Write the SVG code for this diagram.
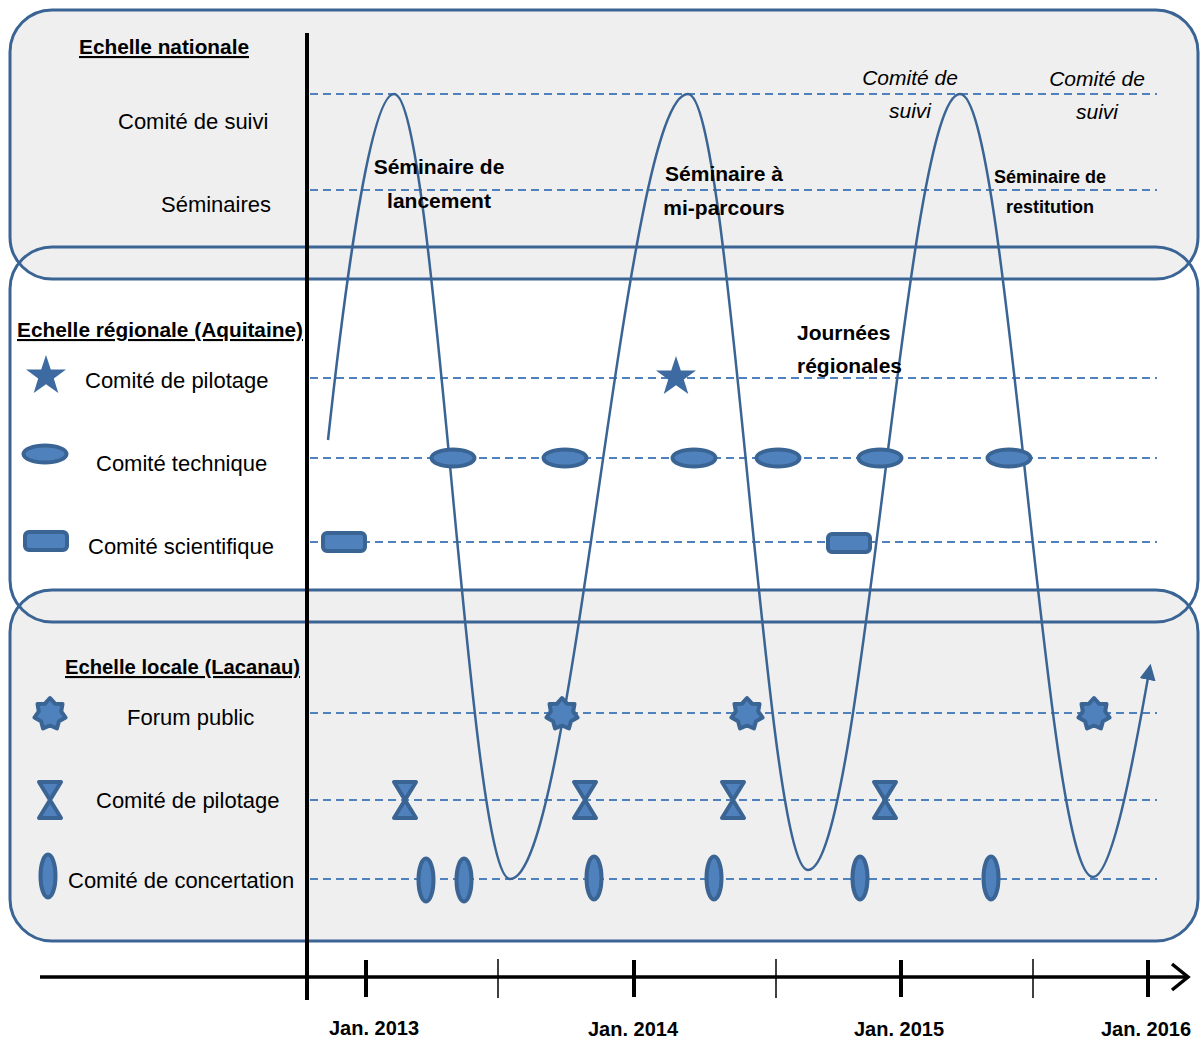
<svg xmlns="http://www.w3.org/2000/svg" width="1202" height="1043" viewBox="0 0 1202 1043">
<style>
.lbl{font-family:"Liberation Sans",Arial,sans-serif;font-size:22px;fill:#000}
.hd{font-family:"Liberation Sans",Arial,sans-serif;font-size:21px;font-weight:bold;text-decoration:underline;fill:#000}
.bd{font-family:"Liberation Sans",Arial,sans-serif;font-size:21px;font-weight:bold;fill:#000;text-anchor:middle}
.it{font-family:"Liberation Sans",Arial,sans-serif;font-size:21px;font-style:italic;fill:#000;text-anchor:middle}
.yr{font-family:"Liberation Sans",Arial,sans-serif;font-size:20px;font-weight:bold;fill:#000;text-anchor:middle}
.dash{stroke:#4f81bd;stroke-width:1.8;stroke-dasharray:8 5;fill:none}
.sym{fill:#4f81bd;stroke:#3a6494;stroke-width:4;stroke-linejoin:round}
.pan{stroke:#3a6494;stroke-width:3;fill:none}
</style>
<defs>
<marker id="ah" viewBox="0 0 10 10" refX="8" refY="5" markerWidth="6.5" markerHeight="6.5" orient="auto" markerUnits="strokeWidth">
<path d="M0,0 L10,5 L0,10 z" fill="#3a6494"/>
</marker>
<polygon id="star5" points="0,-21 4.8,-6.6 20,-6.5 7.8,2.5 12.3,17 0,8.2 -12.3,17 -7.8,2.5 -20,-6.5 -4.8,-6.6" fill="#3d6aa0"/>
<polygon id="star7" class="sym" points="0,-16 4.99,-10.36 12.51,-9.98 11.21,-2.56 15.6,3.56 8.99,7.17 6.94,14.42 0,11.5 -6.94,14.42 -8.99,7.17 -15.6,3.56 -11.21,-2.56 -12.51,-9.98 -4.99,-10.36"/>
<path id="hour" class="sym" d="M-11,-18 L11,-18 L0,0 Z M0,0 L11,18 L-11,18 Z"/>
<ellipse id="ovh" class="sym" rx="21.5" ry="8.5"/>
<ellipse id="ovv" class="sym" rx="7.5" ry="21.5"/>
<rect id="rct" class="sym" x="-21" y="-9" width="42" height="18" rx="4"/>
</defs>

<g id="panels">
<rect x="10" y="10" width="1188" height="269" rx="42" fill="#efefef"/>
<rect x="10" y="590" width="1188" height="351" rx="42" fill="#efefef"/>
<rect class="pan" x="10" y="10" width="1188" height="269" rx="42"/>
<rect class="pan" x="10" y="247" width="1188" height="375" rx="42"/>
<rect class="pan" x="10" y="590" width="1188" height="351" rx="42"/>
</g>

<g id="gridlines">
<line class="dash" x1="310" y1="94" x2="1157" y2="94"/>
<line class="dash" x1="310" y1="190" x2="1157" y2="190"/>
<line class="dash" x1="310" y1="378" x2="1157" y2="378"/>
<line class="dash" x1="310" y1="458" x2="1157" y2="458"/>
<line class="dash" x1="310" y1="542" x2="1157" y2="542"/>
<line class="dash" x1="310" y1="713" x2="1157" y2="713"/>
<line class="dash" x1="310" y1="800" x2="1157" y2="800"/>
<line class="dash" x1="310" y1="879" x2="1157" y2="879"/>
</g>

<g id="labels">
<text class="hd" x="79" y="54" textLength="170" lengthAdjust="spacingAndGlyphs">Echelle nationale</text>
<text class="lbl" x="118" y="129">Comité de suivi</text>
<text class="lbl" x="161" y="212">Séminaires</text>
<text class="hd" x="17" y="337" textLength="286" lengthAdjust="spacingAndGlyphs">Echelle régionale (Aquitaine)</text>
<text class="lbl" x="85" y="388">Comité de pilotage</text>
<text class="lbl" x="96" y="471">Comité technique</text>
<text class="lbl" x="88" y="554">Comité scientifique</text>
<text class="hd" x="65" y="674" textLength="235" lengthAdjust="spacingAndGlyphs">Echelle locale (Lacanau)</text>
<text class="lbl" x="127" y="725">Forum public</text>
<text class="lbl" x="96" y="808">Comité de pilotage</text>
<text class="lbl" x="68" y="888">Comité de concertation</text>
</g>

<g id="legend-symbols">
<use href="#star5" x="46" y="376"/>
<use href="#ovh" x="45" y="454"/>
<use href="#rct" x="46" y="541"/>
<use href="#star7" x="50" y="714"/>
<use href="#hour" x="50" y="800"/>
<use href="#ovv" x="48" y="876"/>
</g>

<g id="connectors">
<path d="M328,440 C340,330 368,94 394,94 C436,94 468,879 510,879 C574,879 624,94 688,94 C731,94 765,870 808,870 C863,870 905,94 960,94 C1008,94 1045,877 1093,877 C1115,877 1140,720 1150,667" fill="none" stroke="#3a6494" stroke-width="2.5" marker-end="url(#ah)"/>
</g>

<g id="events">
<use href="#star5" x="676" y="377"/>
<use href="#ovh" x="453" y="458"/>
<use href="#ovh" x="565" y="458"/>
<use href="#ovh" x="694" y="458"/>
<use href="#ovh" x="778" y="458"/>
<use href="#ovh" x="880" y="458"/>
<use href="#ovh" x="1009" y="458"/>
<use href="#rct" x="344" y="542"/>
<use href="#rct" x="849" y="543"/>
<use href="#star7" x="562" y="714"/>
<use href="#star7" x="747" y="714"/>
<use href="#star7" x="1094" y="714"/>
<use href="#hour" x="405" y="800"/>
<use href="#hour" x="585" y="800"/>
<use href="#hour" x="733" y="800"/>
<use href="#hour" x="885" y="800"/>
<use href="#ovv" x="426" y="880"/>
<use href="#ovv" x="464" y="880"/>
<use href="#ovv" x="594" y="878"/>
<use href="#ovv" x="714" y="878"/>
<use href="#ovv" x="860" y="878"/>
<use href="#ovv" x="991" y="878"/>
</g>

<g id="annotations">
<text class="bd" x="439" y="174">Séminaire de</text>
<text class="bd" x="439" y="208">lancement</text>
<text class="bd" x="724" y="181">Séminaire à</text>
<text class="bd" x="724" y="215">mi-parcours</text>
<text class="it" x="910" y="85">Comité de</text>
<text class="it" x="910" y="118">suivi</text>
<text class="it" x="1097" y="86">Comité de</text>
<text class="it" x="1097" y="119">suivi</text>
<text class="bd" x="1050" y="183" style="font-size:18px">Séminaire de</text>
<text class="bd" x="1050" y="213" style="font-size:18px">restitution</text>
<text class="bd" x="797" y="340" style="text-anchor:start">Journées</text>
<text class="bd" x="797" y="373" style="text-anchor:start">régionales</text>
</g>

<g id="axes">
<line x1="307" y1="33" x2="307" y2="1000" stroke="#000" stroke-width="4"/>
<line x1="40" y1="977" x2="1186" y2="977" stroke="#000" stroke-width="3.5"/>
<polyline points="1172,964 1188,977 1172,990" fill="none" stroke="#000" stroke-width="3.5"/>
<g stroke="#000" stroke-width="4">
<line x1="366" y1="960" x2="366" y2="997"/>
<line x1="634" y1="960" x2="634" y2="997"/>
<line x1="901" y1="960" x2="901" y2="997"/>
<line x1="1148" y1="960" x2="1148" y2="997"/>
</g>
<g stroke="#000" stroke-width="1.5">
<line x1="498" y1="959" x2="498" y2="998"/>
<line x1="776" y1="959" x2="776" y2="998"/>
<line x1="1033" y1="959" x2="1033" y2="998"/>
</g>
<text class="yr" x="374" y="1035">Jan. 2013</text>
<text class="yr" x="633" y="1036">Jan. 2014</text>
<text class="yr" x="899" y="1036">Jan. 2015</text>
<text class="yr" x="1146" y="1036">Jan. 2016</text>
</g>
</svg>
